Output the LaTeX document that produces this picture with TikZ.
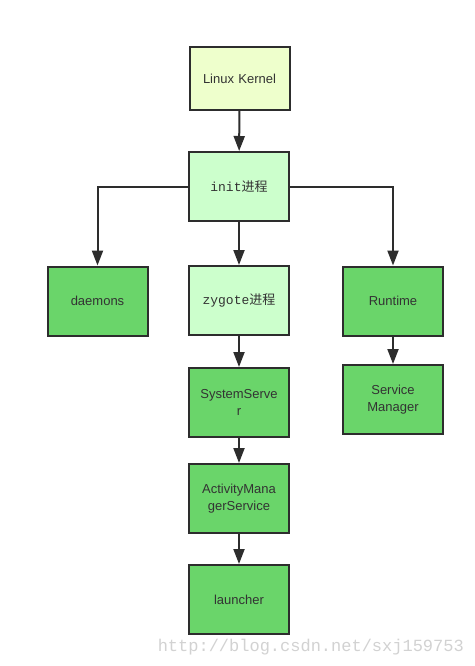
\documentclass[tikz,border=0pt]{standalone}
\usepackage{fontspec}
\setmainfont{Liberation Sans}
\newfontfamily\cjkfont{Noto Sans CJK SC}
\newfontfamily\monofont{Liberation Mono}
\usetikzlibrary{arrows.meta}
\definecolor{lightyg}{RGB}{238,255,204}
\definecolor{lightg}{RGB}{204,255,204}
\definecolor{darkg}{RGB}{106,213,106}
\definecolor{edgec}{RGB}{45,45,45}
\definecolor{txtc}{RGB}{51,51,51}
\definecolor{wmark}{RGB}{210,210,210}
\begin{document}
\begin{tikzpicture}[x=1pt,y=-1pt,
  box/.style={draw=edgec, line width=2pt, minimum width=100pt, minimum height=69pt, inner sep=2pt, text width=92pt, align=center, font=\fontsize{13}{17}\selectfont, text=txtc},
  conn/.style={draw=edgec, line width=2pt, -{Triangle[width=11pt,length=15pt]}}]
\useasboundingbox (0,0) rectangle (474,666);
\fill[white] (0,0) rectangle (474,666);
\node[box, fill=lightyg, minimum height=63pt] (kernel) at (239.5,78.5) {Linux Kernel};
\node[box, fill=lightg] (init) at (239,186.5) {\monofont init\cjkfont 进程};
\node[box, fill=darkg] (daemons) at (97.5,301) {daemons};
\node[box, fill=lightg] (zygote) at (239,300.5) {\monofont zygote\cjkfont 进程};
\node[box, fill=darkg] (runtime) at (393,301) {Runtime};
\node[box, fill=darkg] (sm) at (393,399.5) {Service\\Manager};
\node[box, fill=darkg] (ss) at (239,402.5) {SystemServe\\r};
\node[box, fill=darkg] (ams) at (239,498.5) {ActivityMana\\gerService};
\node[box, fill=darkg] (launcher) at (239,599.5) {launcher};
\draw[conn] (kernel) -- (init);
\draw[conn] (init) -- (zygote);
\draw[conn] (init.west) -| (daemons.north);
\draw[conn] (init.east) -| (runtime.north);
\draw[conn] (runtime) -- (sm);
\draw[conn] (zygote) -- (ss);
\draw[conn] (ss) -- (ams);
\draw[conn] (ams) -- (launcher);
\node[font=\fontsize{17}{20}\selectfont\monofont, text=wmark, anchor=east, inner sep=0pt] (wm) at (464,647) {http://blog.csdn.net/sxj159753};
\end{tikzpicture}
\end{document}
